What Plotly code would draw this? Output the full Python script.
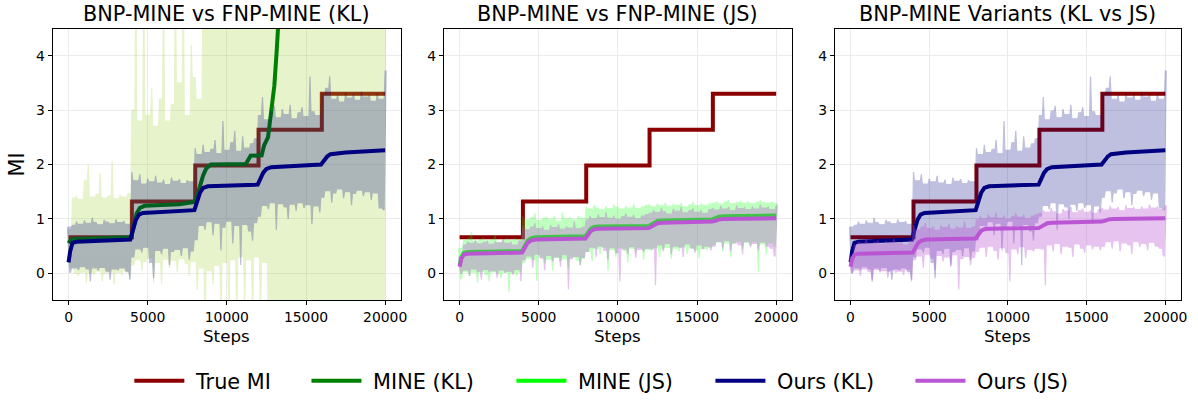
import plotly.graph_objects as go

# ---- data -------------------------------------------------------------
# True mutual information, piecewise constant over training steps
true_steps = [0, 4000, 8000, 12000, 16000, 20000]
true_mi = [0.66, 1.32, 1.98, 2.64, 3.30, 3.30]

# Raw estimator traces, sampled as alternating peaks (every 250 steps from 0)
# and troughs (every 250 steps from 125)
peak_steps = list(range(0, 20001, 250))
trough_steps = list(range(125, 20000, 250))

ours_kl_peaks = [
    0.85, 0.88, 0.95, 0.90, 0.97, 0.92, 1.02, 0.93, 0.89, 0.98, 0.94, 0.91, 0.99, 0.93, 0.96, 0.90,
    1.86, 1.70, 1.82, 1.64, 1.74, 1.68, 1.79, 1.66, 1.72, 1.63, 1.76, 1.69, 1.73, 1.65, 1.71, 1.68,
    2.30, 2.18, 2.36, 2.22, 2.28, 2.45, 2.20, 2.80, 2.26, 2.40, 2.62, 2.24, 2.52, 2.30, 2.38, 2.47,
    2.90, 3.24, 2.82, 2.98, 3.08, 2.86, 3.02, 2.92, 3.10, 2.84, 2.95, 3.05, 2.88, 3.62, 2.97, 2.90,
    3.30, 3.40, 3.62, 3.20, 3.28, 3.15, 3.32, 3.22, 3.30, 3.18, 3.34, 3.24, 3.28, 3.16, 3.30, 3.20, 3.72,
]
ours_kl_troughs = [
    0.02, 0.10, 0.06, 0.12, 0.08, -0.15, 0.10, 0.05, 0.11, 0.04, -0.12, 0.08, 0.06, 0.10, 0.03, -0.12,
    0.30, 0.45, 0.38, 0.48, 0.20, -0.09, 0.42, 0.35, 0.46, 0.15, 0.40, 0.44, 0.32, 0.47, 0.25, 0.41,
    0.62, 0.88, 0.80, 0.95, 0.70, 0.92, 0.42, 0.85, 0.96, 0.55, 0.88, 0.15, 0.90, 0.78, 0.60, 0.93,
    1.05, 1.25, 1.18, 1.30, 0.80, 1.28, 1.22, 1.00, 1.27, 1.15, 1.30, 1.20, 1.26, 0.90, 1.24, 1.12,
    1.40, 1.52, 1.30, 1.48, 1.55, 1.38, 1.50, 1.25, 1.47, 1.53, 1.42, 1.50, 1.35, 1.48, 1.20, 1.17,
]

ours_js_peaks = [
    0.30, 0.52, 0.58, 0.55, 0.62, 0.54, 0.57, 0.60, 0.53, 0.58, 0.56, 0.63, 0.55, 0.57, 0.52, 0.59,
    0.88, 0.80, 0.85, 0.92, 0.82, 0.86, 0.79, 0.88, 0.84, 0.90, 0.81, 0.86, 0.83, 0.95, 0.82, 0.85,
    0.98, 1.05, 1.00, 1.08, 1.02, 1.12, 1.01, 1.06, 0.99, 1.04, 1.10, 1.03, 1.07, 1.00, 1.05, 1.08,
    1.10, 1.16, 1.12, 1.20, 1.13, 1.09, 1.18, 1.14, 1.22, 1.11, 1.15, 1.19, 1.12, 1.16, 1.10, 1.17,
    1.20, 1.16, 1.24, 1.18, 1.22, 1.15, 1.25, 1.19, 1.21, 1.17, 1.23, 1.18, 1.26, 1.20, 1.22, 1.17, 1.24,
]
ours_js_troughs = [
    0.00, 0.06, -0.05, 0.08, 0.03, -0.12, 0.07, 0.02, 0.05, -0.08, 0.06, 0.01, 0.04, -0.03, 0.07, -0.15,
    0.25, 0.32, 0.10, 0.35, 0.28, 0.05, 0.33, 0.22, 0.30, 0.12, 0.34, -0.30, 0.27, 0.31, 0.15, 0.29,
    0.40, 0.48, 0.30, 0.50, 0.42, 0.25, 0.47, 0.38, -0.15, 0.45, 0.35, 0.49, 0.28, 0.44, 0.40, 0.46,
    0.45, -0.22, 0.52, 0.40, 0.55, 0.35, 0.50, 0.48, 0.30, 0.54, 0.46, 0.38, 0.52, 0.44, 0.50, 0.42,
    0.50, 0.58, 0.45, 0.60, 0.40, 0.56, 0.52, 0.35, 0.58, 0.48, 0.55, 0.42, 0.57, 0.50, 0.46, 0.32,
]

mine_js_peaks = [
    0.45, 0.60, 0.64, 0.76, 0.58, 0.62, 0.66, 0.59, 0.63, 0.70, 0.57, 0.61, 0.65, 0.60, 0.64, 0.62,
    1.05, 0.98, 1.02, 1.10, 0.97, 1.01, 1.04, 0.99, 1.06, 0.96, 1.12, 1.00, 1.03, 0.98, 1.05, 1.01,
    1.22, 1.18, 1.25, 1.20, 1.17, 1.23, 1.19, 1.26, 1.21, 1.18, 1.24, 1.20, 1.27, 1.19, 1.22, 1.25,
    1.26, 1.22, 1.28, 1.24, 1.30, 1.23, 1.27, 1.25, 1.29, 1.22, 1.26, 1.31, 1.24, 1.28, 1.25, 1.27,
    1.29, 1.32, 1.27, 1.31, 1.34, 1.28, 1.30, 1.33, 1.29, 1.32, 1.28, 1.31, 1.34, 1.30, 1.29, 1.32, 1.28,
]
mine_js_troughs = [
    -0.10, 0.03, -0.05, 0.02, -0.17, 0.04, -0.02, -0.15, 0.03, 0.00, -0.08, 0.02, -0.35, 0.01, -0.05, 0.03,
    0.20, 0.28, 0.25, -0.14, 0.30, 0.18, 0.26, 0.05, 0.29, 0.22, 0.27, 0.10, 0.30, 0.24, 0.15, 0.28,
    0.40, 0.22, 0.46, 0.35, 0.48, 0.04, 0.44, 0.30, 0.47, 0.42, 0.20, 0.46, 0.38, 0.48, 0.25, 0.44,
    0.42, 0.47, 0.30, 0.45, 0.48, 0.27, 0.46, 0.40, 0.49, 0.35, 0.47, 0.43, 0.28, 0.46, 0.44, 0.48,
    0.52, 0.58, 0.40, 0.56, 0.30, 0.55, 0.59, 0.45, 0.57, 0.50, 0.58, 0.03, 0.54, 0.35, 0.56, 0.50,
]

mine_kl_peaks = [
    0.80, 1.38, 1.42, 1.36, 1.70, 2.00, 1.40, 1.45, 1.85, 1.38, 1.42, 2.06, 1.37, 1.44, 1.40, 1.46,
    3.00, 5.50, 2.80, 5.50, 2.90, 3.40, 2.70, 3.20, 5.50, 2.80, 3.10, 5.50, 3.50, 5.50, 2.90, 4.20,
    3.60, 3.20, 6.10, 6.40, 5.90, 6.80, 6.20, 7.10, 6.50, 6.00, 6.90, 6.30, 7.40, 6.10, 6.60, 7.00,
    6.40, 7.20, 6.80, 7.90, 6.60, 7.50, 8.10, 6.90, 7.70, 8.40, 7.10, 7.80, 8.60, 7.30, 8.00, 8.80,
    7.60, 8.30, 9.00, 7.90, 8.50, 9.20, 8.10, 8.70, 9.40, 8.20, 8.90, 9.60, 8.40, 9.10, 9.80, 8.60, 9.30,
]
mine_kl_troughs = [
    0.10, 0.00, -0.05, 0.02, -0.18, 0.01, -0.03, 0.04, -0.15, 0.00, 0.03, -0.20, 0.02, -0.04, 0.05, -0.10,
    0.15, 0.25, 0.05, 0.22, 0.28, -0.18, 0.20, -0.20, 0.26, 0.10, 0.24, 0.02, 0.27, 0.18, -0.05, 0.22,
    -0.30, 0.10, -1.00, 0.05, -0.20, 0.15, -1.00, 0.20, -1.00, 0.25, -1.00, 0.30, -0.60, 0.25, -1.00, 0.30,
    -1.00, 0.20, -1.00, -2.60, -3.10, -2.80, -3.40, -2.90, -3.60, -3.20, -3.80, -3.00, -3.50, -4.00, -3.30, -3.70,
    -4.10, -3.60, -4.30, -3.90, -4.50, -4.00, -4.70, -4.20, -4.80, -4.40, -5.00, -4.60, -5.20, -4.80, -5.40, -5.00,
]

# Smoothed estimates
ours_kl_steps = [0, 100, 250, 500, 3900, 4100, 4250, 4450, 4700, 7950, 8150, 8300, 8500, 8800,
                 11950, 12150, 12300, 12500, 12800, 15950, 16200, 16350, 16550, 17500, 20000]
ours_kl = [0.20, 0.40, 0.56, 0.58, 0.62, 0.80, 0.98, 1.08, 1.11, 1.16, 1.32, 1.48, 1.57, 1.60,
           1.63, 1.74, 1.85, 1.92, 1.95, 2.00, 2.09, 2.15, 2.19, 2.22, 2.26]

ours_js_steps = [0, 100, 250, 500, 3950, 4150, 4300, 4500, 4800, 7950, 8150, 8300, 8500, 8800,
                 11950, 12150, 12300, 12500, 12800, 15950, 16200, 16400, 16700, 20000]
ours_js = [0.12, 0.26, 0.34, 0.36, 0.38, 0.48, 0.56, 0.60, 0.62, 0.64, 0.72, 0.78, 0.81, 0.82,
           0.83, 0.87, 0.90, 0.92, 0.93, 0.95, 0.97, 0.99, 1.00, 1.01]

mine_js_steps = ours_js_steps
mine_js = [0.15, 0.28, 0.37, 0.39, 0.41, 0.52, 0.60, 0.64, 0.66, 0.68, 0.76, 0.82, 0.85, 0.86,
           0.87, 0.91, 0.94, 0.96, 0.97, 0.99, 1.02, 1.04, 1.05, 1.06]

mine_kl_steps = [0, 100, 300, 3950, 4150, 4300, 4500, 4800, 7000, 7950, 8150, 8300, 8500, 8700,
                 9000, 11200, 11350, 11500, 12200, 12350, 12600, 12800, 13000, 13150, 13300, 13450]
mine_kl = [0.55, 0.60, 0.63, 0.66, 0.90, 1.10, 1.20, 1.24, 1.27, 1.31, 1.45, 1.62, 1.80, 1.93,
           2.00, 2.01, 2.10, 2.16, 2.17, 2.35, 2.50, 2.95, 3.45, 4.10, 4.60, 5.60]

# ---- styling ----------------------------------------------------------
C_TRUE = "#8b0000"
C_MINE_KL = "#008000"
C_MINE_JS = "#00ff00"
C_OURS_KL = "#000080"
C_OURS_JS = "#ba55d3"
# raw traces: (solid colour, layer opacity)
RAW_MINE_KL = ("#9acd32", 0.25)
RAW_MINE_JS = ("#00ff00", 0.25)
RAW_OURS_KL = ("#000080", 0.25)
RAW_OURS_JS = ("#ba55d3", 0.35)
FONT = "DejaVu Sans"

W, H = 1198, 402
panels = [(53, 403), (446, 796), (839, 1187)]
top_px, bottom_px = 29, 305
titles = ["BNP-MINE vs FNP-MINE (KL)", "BNP-MINE vs FNP-MINE (JS)", "BNP-MINE Variants (KL vs JS)"]

# one single-entry legend per series, laid out left to right under the panels
legend_slots = {"legend": 135, "legend2": 313, "legend3": 519, "legend4": 719, "legend5": 920}

HALF = 60  # half-width of a spike, in steps (about one pixel)


def spiky_edge(xs, vals, pick):
    """Edge of a raw trace with narrow spikes: each sample is a sharp tip and
    the edge rests on the less extreme of two neighbouring samples."""
    ex, ey = [], []
    n = len(vals)
    for i in range(n):
        left = pick(vals[i], vals[i - 1]) if i > 0 else vals[i]
        right = pick(vals[i], vals[i + 1]) if i < n - 1 else vals[i]
        ex += [xs[i] - HALF, xs[i], xs[i] + HALF]
        ey += [left, vals[i], right]
    return ex, ey


def envelope(peaks, troughs):
    """Closed outline of a raw trace: upper edge left to right, lower edge back."""
    ux, uy = spiky_edge(peak_steps, peaks, min)
    lx, ly = spiky_edge(trough_steps, troughs, max)
    xs = ux + lx[::-1] + [ux[0]]
    ys = uy + ly[::-1] + [uy[0]]
    return xs, ys


fig = go.Figure()


def add_true(k, show):
    fig.add_trace(go.Scatter(x=true_steps, y=true_mi, mode="lines", line=dict(color=C_TRUE, width=4, shape="hv"),
                             name="\u00a0True MI", legend="legend", showlegend=show,
                             xaxis=f"x{k}", yaxis=f"y{k}"))


def add_raw(k, peaks, troughs, style):
    color, alpha = style
    xs, ys = envelope(peaks, troughs)
    fig.add_trace(go.Scatter(x=xs, y=ys, mode="lines", fill="toself", fillcolor=color,
                             line=dict(color=color, width=1.2, simplify=False),
                             opacity=alpha, showlegend=False, hoverinfo="skip", xaxis=f"x{k}", yaxis=f"y{k}"))


def add_smooth(k, xs, ys, color, name, leg, show):
    fig.add_trace(go.Scatter(x=xs, y=ys, mode="lines", line=dict(color=color, width=4),
                             name="\u00a0" + name, legend=leg, showlegend=show,
                             xaxis=f"x{k}", yaxis=f"y{k}"))


# panel 1: KL objective
add_true("", True)
add_raw("", mine_kl_peaks, mine_kl_troughs, RAW_MINE_KL)
add_smooth("", mine_kl_steps, mine_kl, C_MINE_KL, "MINE (KL)", "legend2", True)
add_raw("", ours_kl_peaks, ours_kl_troughs, RAW_OURS_KL)
add_smooth("", ours_kl_steps, ours_kl, C_OURS_KL, "Ours (KL)", "legend4", True)

# panel 2: JS objective
add_true("2", False)
add_raw("2", mine_js_peaks, mine_js_troughs, RAW_MINE_JS)
add_smooth("2", mine_js_steps, mine_js, C_MINE_JS, "MINE (JS)", "legend3", True)
add_raw("2", ours_js_peaks, ours_js_troughs, RAW_OURS_JS)
add_smooth("2", ours_js_steps, ours_js, C_OURS_JS, "Ours (JS)", "legend5", True)

# panel 3: our two variants
add_true("3", False)
add_raw("3", ours_kl_peaks, ours_kl_troughs, RAW_OURS_KL)
add_smooth("3", ours_kl_steps, ours_kl, C_OURS_KL, "Ours (KL)", "legend4", False)
add_raw("3", ours_js_peaks, ours_js_troughs, RAW_OURS_JS)
add_smooth("3", ours_js_steps, ours_js, C_OURS_JS, "Ours (JS)", "legend5", False)

axis_common = dict(showline=True, mirror=True, linecolor="black", linewidth=1,
                   ticks="outside", ticklen=4, tickwidth=1, tickcolor="black",
                   showgrid=True, gridcolor="#ebebeb", gridwidth=1, zeroline=False,
                   tickfont=dict(family=FONT, size=13.9, color="black"))

layout = dict(width=W, height=H, margin=dict(l=0, r=0, t=0, b=0),
              paper_bgcolor="white", plot_bgcolor="white",
              font=dict(family=FONT, color="black"),
              showlegend=True)

for leg, px in legend_slots.items():
    layout[leg] = dict(orientation="h", x=(px - 5) / W, xanchor="left", y=1 - 387 / H, yanchor="middle",
                       font=dict(family=FONT, size=20.8, color="black"), itemwidth=50,
                       bgcolor="rgba(0,0,0,0)")

annotations = []
for i, (x0, x1) in enumerate(panels):
    sfx = "" if i == 0 else str(i + 1)
    layout[f"xaxis{sfx}"] = dict(domain=[x0 / W, x1 / W], range=[-1000, 21000], tickvals=[0, 5000, 10000, 15000, 20000],
                                 ticktext=["0", "5000", "10000", "15000", "20000"], anchor=f"y{sfx}", **axis_common)
    layout[f"yaxis{sfx}"] = dict(domain=[1 - bottom_px / H, 1 - top_px / H], range=[-0.5, 4.5], dtick=1,
                                 anchor=f"x{sfx}", **axis_common)
    cx = (x0 + x1) / 2 / W
    annotations.append(dict(text=titles[i], x=cx, y=1 - 14 / H, xref="paper", yref="paper", showarrow=False,
                            xanchor="center", yanchor="middle", font=dict(family=FONT, size=20.8, color="black")))
    annotations.append(dict(text="Steps", x=cx, y=1 - 341 / H, xref="paper", yref="paper", showarrow=False,
                            xanchor="center", yanchor="middle", font=dict(family=FONT, size=16.7, color="black")))
annotations.append(dict(text="MI", x=17 / W, y=1 - 167 / H, xref="paper", yref="paper", showarrow=False,
                        textangle=-90, xanchor="center", yanchor="middle", font=dict(family=FONT, size=20.8, color="black")))
layout["annotations"] = annotations

fig.update_layout(**layout)
fig.write_html("out.html")
